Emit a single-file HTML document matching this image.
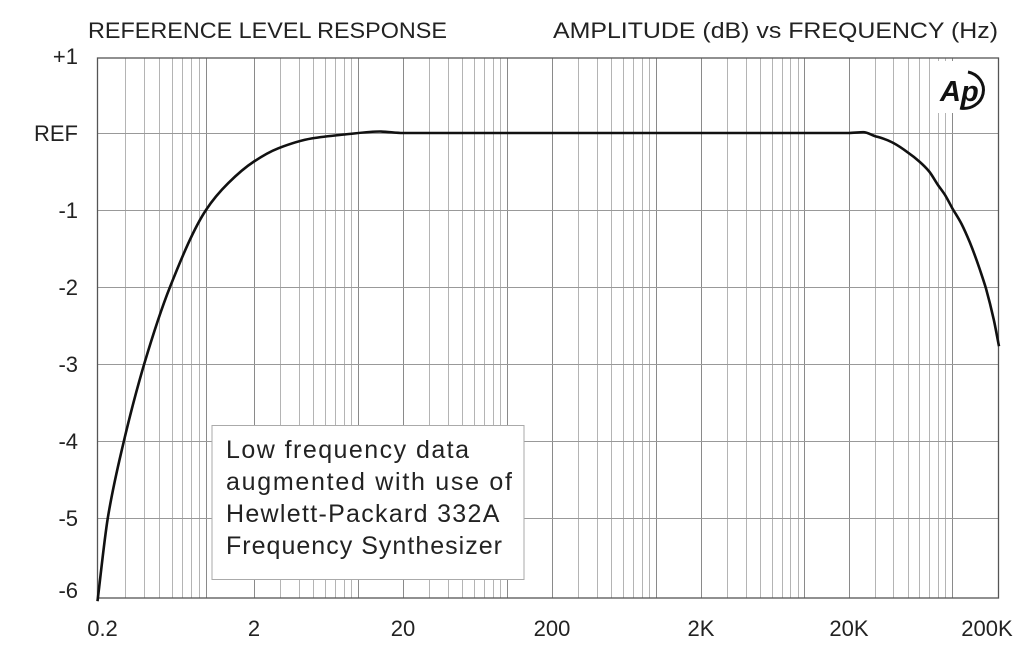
<!DOCTYPE html>
<html><head><meta charset="utf-8"><style>
html,body{margin:0;padding:0;background:#fff;}
svg{display:block;font-family:"Liberation Sans",sans-serif;}
</style></head><body>
<svg id="chart" width="1024" height="665" viewBox="0 0 1024 665">
<text x="88" y="38" font-size="22" fill="#222" textLength="359" lengthAdjust="spacingAndGlyphs">REFERENCE LEVEL RESPONSE</text>
<text x="553" y="38" font-size="22" fill="#222" textLength="445" lengthAdjust="spacingAndGlyphs">AMPLITUDE (dB) vs FREQUENCY (Hz)</text>
<g id="grid"></g>
<g id="ylabels"></g>
<g id="xlabels"></g>
<rect x="935" y="61" width="62" height="52" fill="#fff"/>
<g>
<text x="940" y="101" font-size="29" font-style="italic" font-weight="bold" fill="#111">Ap</text>
<path d="M968,72 A18,17 0 0 1 960,108" fill="none" stroke="#111" stroke-width="3"/>
</g>
<path id="curve" fill="none" stroke="#111" stroke-width="2.6"/>
<g>
<rect x="212" y="425.5" width="312" height="154" fill="#fff" stroke="#aaa" stroke-width="1"/>
<text font-size="25" fill="#222" lengthAdjust="spacingAndGlyphs">
<tspan x="226" y="458" textLength="243">Low frequency data</tspan>
<tspan x="226" y="490" textLength="286">augmented with use of</tspan>
<tspan x="226" y="522" textLength="272">Hewlett-Packard 332A</tspan>
<tspan x="226" y="554" textLength="276">Frequency Synthesizer</tspan>
</text>
</g>
</svg>
<script>
const freqs=[0.2,0.233,0.296,0.4,0.586,1.0,1.38,2,2.9,4.9,8.1,14,20,200,2000,20000,25000,30000,35000,40000,50000,60000,70000,80000,90000,100000,115000,130000,150000,165000,185000,200000];
const levels=[-6.08,-5,-4,-3,-2,-1,-0.65,-0.37,-0.2,-0.07,-0.02,0.02,0,0,0,0,0.01,-0.04,-0.08,-0.13,-0.25,-0.37,-0.5,-0.67,-0.81,-0.97,-1.18,-1.42,-1.76,-2.02,-2.42,-2.77];
const yTicks=[1,0,-1,-2,-3,-4,-5,-6];
const yTickLabels=["+1","REF","-1","-2","-3","-4","-5","-6"];
const xTicks=[0.2,2,20,200,2000,20000,200000];
const xTickLabels=["0.2","2","20","200","2K","20K","200K"];
const NS="http://www.w3.org/2000/svg";
const calF=[0.2,1,2,20,200,2000,20000,100000,200000];
const calX=[97.5,206,254,403,552,701,849,952,999];
function xs(f){const l=Math.log10(f);
 for(let i=0;i<calF.length-1;i++){const a=Math.log10(calF[i]),b=Math.log10(calF[i+1]);
  if(l<=b||i===calF.length-2){return calX[i]+(l-a)/(b-a)*(calX[i+1]-calX[i]);}}}
function ys(v){return 133-v*77;}
const L=97.5,R=998.5,T=58,B=598;
const grid=document.getElementById('grid');
function line(x1,y1,x2,y2,c,w,name){const e=document.createElementNS(NS,'line');
 e.setAttribute('x1',x1);e.setAttribute('y1',y1);e.setAttribute('x2',x2);e.setAttribute('y2',y2);
 e.setAttribute('stroke',c);e.setAttribute('stroke-width',w);
 
 
 grid.appendChild(e);}
for(let d=-1;d<=5;d++){for(let m=1;m<=9;m++){const f=m*Math.pow(10,d);
 if(f<=0.2||f>=200000)continue;const x=Math.round(xs(f))+0.5;
 line(x,T,x,B,(m===1||m===2)?'#8a8a8a':'#b4b4b4',1,'v-gridline');}}
for(let v=0;v>=-5;v--){const y=Math.round(ys(v))+0.5;line(L,y,R,y,'#999',1,'h-gridline');}
const fr=document.createElementNS(NS,'rect');
fr.setAttribute('x',L);fr.setAttribute('y',T);fr.setAttribute('width',R-L);fr.setAttribute('height',B-T);
fr.setAttribute('fill','none');fr.setAttribute('stroke','#555');fr.setAttribute('stroke-width','1.3');


grid.appendChild(fr);
const yl=document.getElementById('ylabels');
yTicks.forEach((v,i)=>{const t=document.createElementNS(NS,'text');
 t.setAttribute('x',78);t.setAttribute('y',Math.min(ys(v),590)+8);t.setAttribute('text-anchor','end');
 t.setAttribute('font-size','22');t.setAttribute('fill','#222');t.textContent=yTickLabels[i];
 
 
 yl.appendChild(t);});
const xl=document.getElementById('xlabels');
xTicks.forEach((f,i)=>{const t=document.createElementNS(NS,'text');
 let x=xs(f);if(i===0)x+=5;if(i===xTicks.length-1)x-=12;
 t.setAttribute('x',x);t.setAttribute('y',636);t.setAttribute('text-anchor','middle');
 t.setAttribute('font-size','22');t.setAttribute('fill','#222');t.textContent=xTickLabels[i];
 
 
 xl.appendChild(t);});
const px=freqs.map(f=>xs(f)),py=levels.map(v=>ys(v)),n=px.length;
const dl=[],m=new Array(n);
for(let i=0;i<n-1;i++)dl.push((py[i+1]-py[i])/(px[i+1]-px[i]));
m[0]=dl[0];m[n-1]=dl[n-2];
for(let i=1;i<n-1;i++){if(dl[i-1]*dl[i]<=0)m[i]=0;else{const h0=px[i]-px[i-1],h1=px[i+1]-px[i];
 const w1=2*h1+h0,w2=h1+2*h0;m[i]=(w1+w2)/(w1/dl[i-1]+w2/dl[i]);}}
let d='M'+px[0].toFixed(1)+','+py[0].toFixed(1);
for(let i=0;i<n-1;i++){const h=px[i+1]-px[i];
 d+=' C'+(px[i]+h/3).toFixed(1)+','+(py[i]+m[i]*h/3).toFixed(1)+' '+(px[i+1]-h/3).toFixed(1)+','+(py[i+1]-m[i+1]*h/3).toFixed(1)+' '+px[i+1].toFixed(1)+','+py[i+1].toFixed(1);}
document.getElementById('curve').setAttribute('d',d);
</script>
</body></html>
